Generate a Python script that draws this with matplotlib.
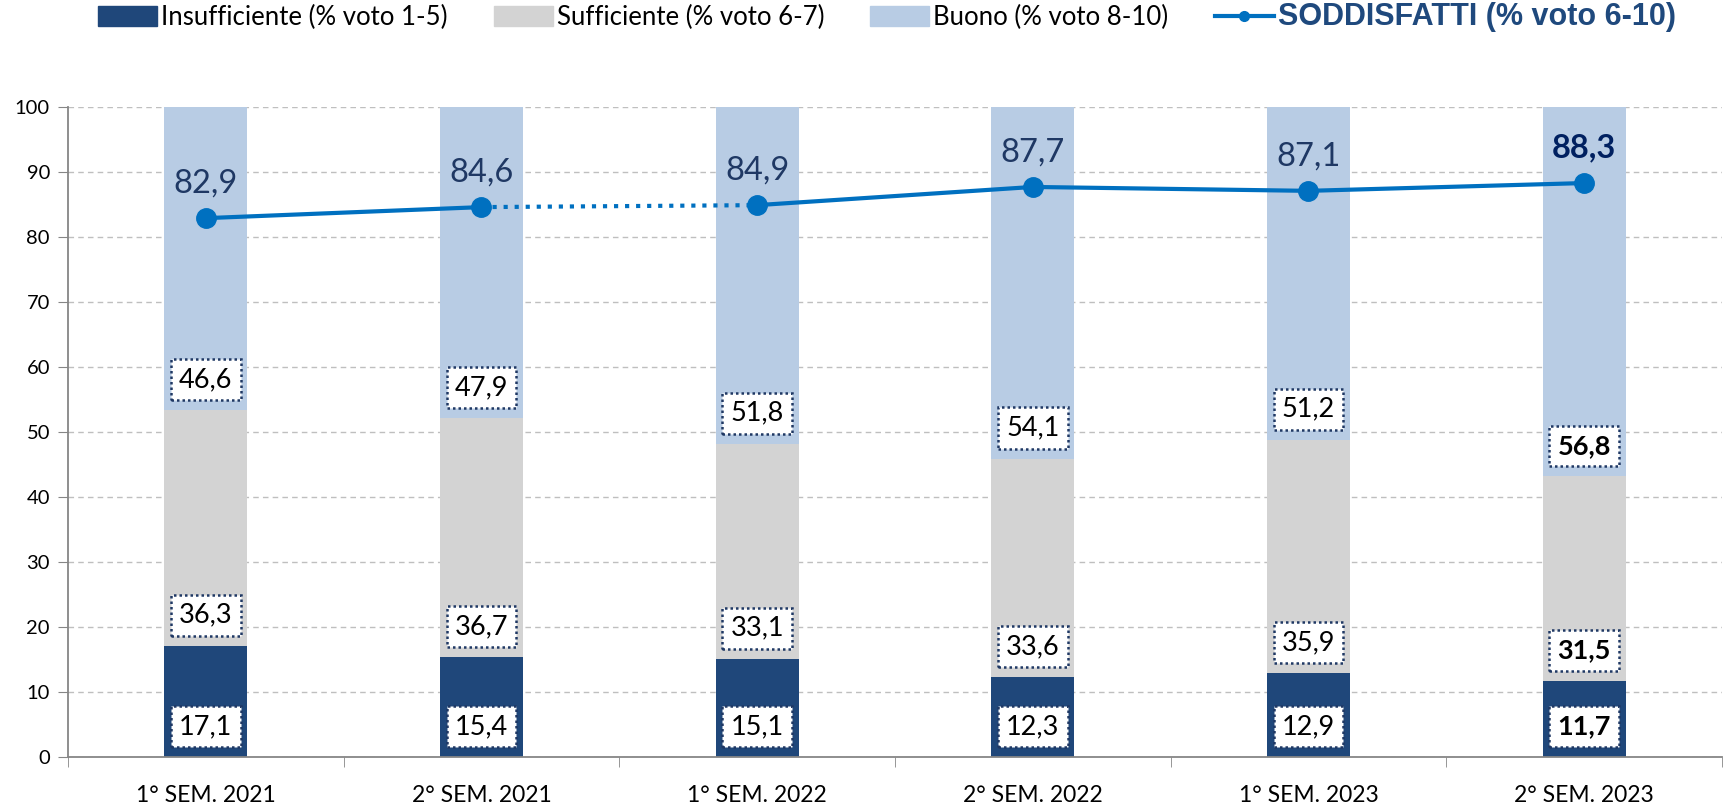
import matplotlib.pyplot as plt
from matplotlib.patches import Patch
from matplotlib.lines import Line2D

periods = ['1° SEM. 2021', '2° SEM. 2021', '1° SEM. 2022',
           '2° SEM. 2022', '1° SEM. 2023', '2° SEM. 2023']
insufficiente = [17.1, 15.4, 15.1, 12.3, 12.9, 11.7]
sufficiente = [36.3, 36.7, 33.1, 33.6, 35.9, 31.5]
buono = [46.6, 47.9, 51.8, 54.1, 51.2, 56.8]
soddisfatti = [82.9, 84.6, 84.9, 87.7, 87.1, 88.3]
dotted_segments = [1]   # segment from period 1 to period 2 is dotted

c_ins = '#1F477A'
c_suf = '#D3D3D3'
c_buo = '#B8CCE4'
c_line = '#0070C0'
c_navy = '#1F3864'
font = 'Lato'

plt.rcParams['font.family'] = [font, 'DejaVu Sans']

fig = plt.figure(figsize=(17.32, 8.05), dpi=100)
ax = fig.add_axes([68 / 1732, 1 - 757 / 805, (1722 - 68) / 1732, (757 - 107) / 805])

x = list(range(len(periods)))
w = 0.30
base2 = [a for a in insufficiente]
base3 = [a + b for a, b in zip(insufficiente, sufficiente)]
ax.bar(x, insufficiente, w, color=c_ins, zorder=2)
ax.bar(x, sufficiente, w, bottom=base2, color=c_suf, zorder=2)
ax.bar(x, buono, w, bottom=base3, color=c_buo, zorder=2)

# labels in dotted boxes near the base of each segment
n = len(periods)
for i in range(n):
    last = i == n - 1
    for val, b in [(insufficiente[i], 0), (sufficiente[i], base2[i]), (buono[i], base3[i])]:
        ax.text(i, b + 4.7, f'{val:.1f}'.replace('.', ','), ha='center', va='center',
                fontsize=19.5, fontweight='bold' if last else 'normal', color='black', zorder=5,
                bbox=dict(boxstyle='square,pad=0.3', fc='white', ec=c_navy,
                          ls=(0, (1, 1.2)), lw=1.8))

# satisfied line
for i in range(n - 1):
    ls = ':' if i in dotted_segments else '-'
    ax.plot(x[i:i + 2], soddisfatti[i:i + 2], color=c_line, lw=3, ls=ls, zorder=3)
ax.plot(x, soddisfatti, 'o', color=c_line, ms=14, zorder=4)
for i in range(n):
    ax.annotate(f'{soddisfatti[i]:.1f}'.replace('.', ','), (x[i], soddisfatti[i]),
                xytext=(0, 27), textcoords='offset points', ha='center', va='center_baseline',
                fontsize=23.5, color=c_navy if i < n - 1 else '#002060',
                fontweight='bold' if i == n - 1 else 'normal', zorder=5)

ax.set_xlim(-0.5, n - 0.5)
ax.set_ylim(0, 100)
ax.set_yticks(range(0, 101, 10))
ax.set_xticks(x)
ax.set_xticklabels(periods)
ax.set_xticks([k - 0.5 for k in range(n + 1)], minor=True)
ax.tick_params(axis='x', which='major', length=0, pad=20, labelsize=16.5)
ax.tick_params(axis='x', which='minor', length=7, color='#868686', direction='out')
ax.tick_params(axis='y', length=7, color='#868686', labelsize=14.5, pad=6)
ax.grid(axis='y', color='#BFBFBF', ls=(0, (4, 3)), lw=1, zorder=0)
for s in ['top', 'right']:
    ax.spines[s].set_visible(False)
for s in ['left', 'bottom']:
    ax.spines[s].set_color('#868686')
    ax.spines[s].set_linewidth(1.3)

handles = [Patch(color=c_ins), Patch(color=c_suf), Patch(color=c_buo),
           Line2D([], [], color=c_line, lw=3, marker='o', ms=7)]
labels = ['Insufficiente (% voto 1-5)', 'Sufficiente (% voto 6-7)',
          'Buono (% voto 8-10)', 'SODDISFATTI (% voto 6-10)']
leg = fig.legend(handles, labels, loc='center', bbox_to_anchor=(0.512, 0.979), ncol=4,
                 frameon=False, fontsize=18.5, handlelength=2.3, handleheight=0.8,
                 handletextpad=0.15, columnspacing=1.8)
txt = leg.get_texts()[-1]
txt.set_color('#1F497D')
txt.set_fontweight('bold')
txt.set_family(['Liberation Sans', 'DejaVu Sans'])
txt.set_fontsize(22)

fig.savefig('out.png', dpi=100)
